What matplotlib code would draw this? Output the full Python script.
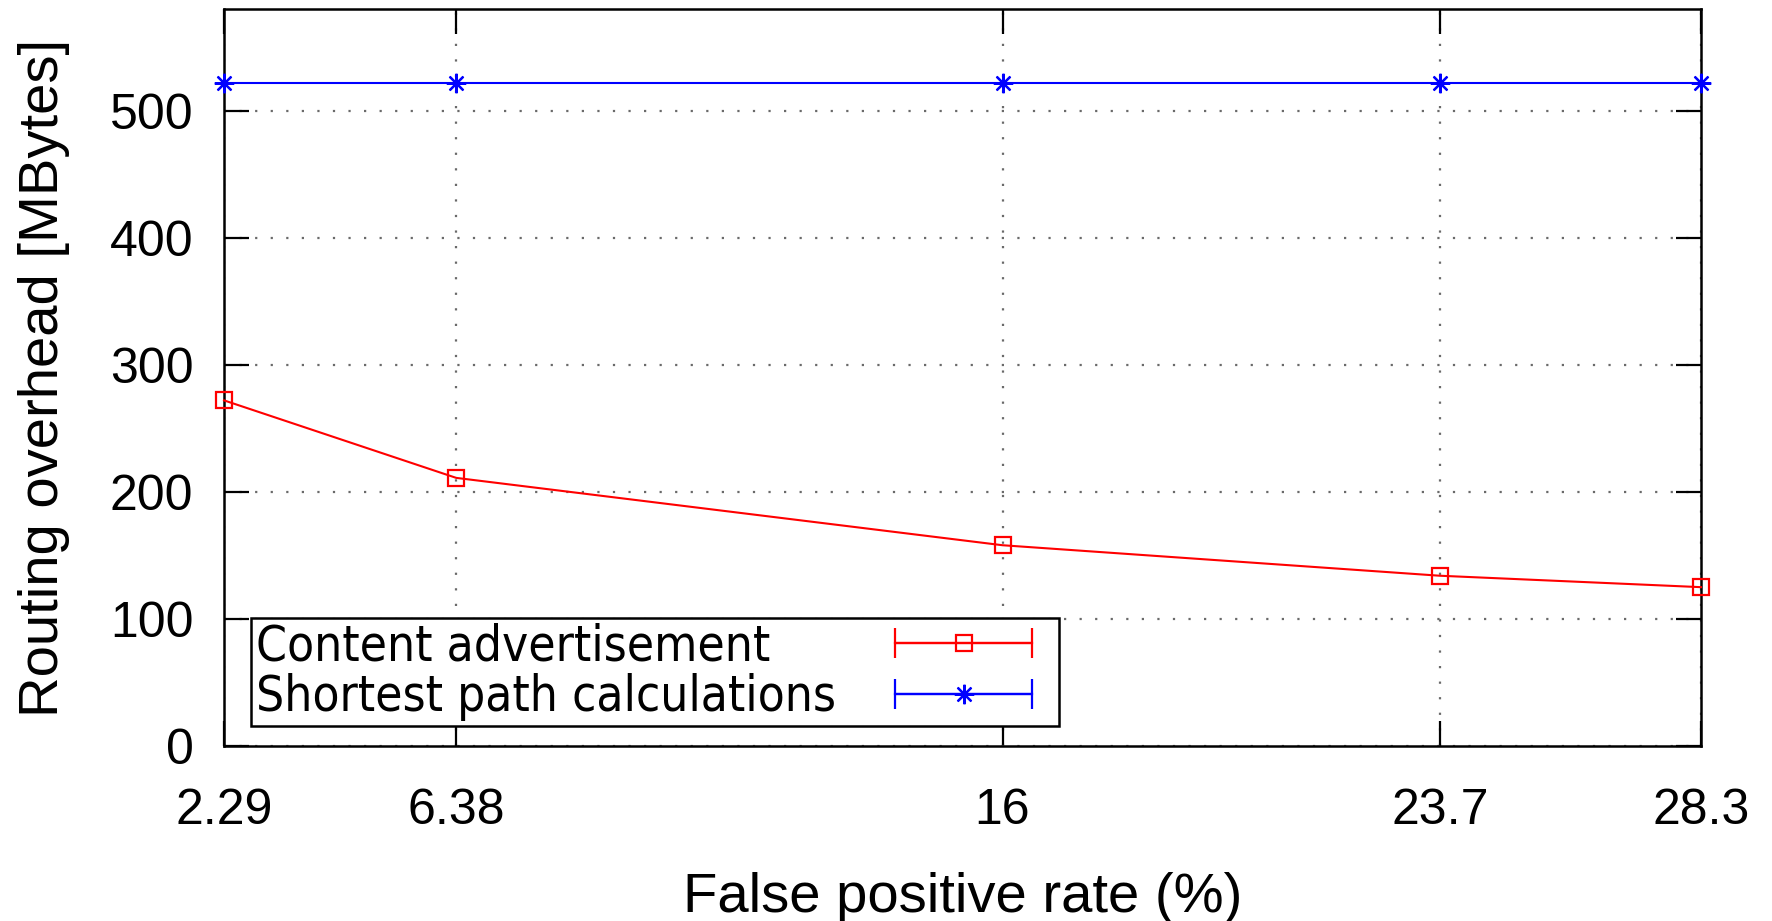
import numpy as np
import matplotlib
matplotlib.use("Agg")
import matplotlib.pyplot as plt
from matplotlib.lines import Line2D
from matplotlib.legend_handler import HandlerErrorbar

# data
fp_rate = [2.29, 6.38, 16, 23.7, 28.3]
content_adv = [272, 211, 158, 134, 125]
shortest_path = [522, 522, 522, 522, 522]
yticks = [0, 100, 200, 300, 400, 500]

plt.rcParams['font.family'] = ['Liberation Sans', 'DejaVu Sans']

fig = plt.figure(figsize=(17.72, 9.21), dpi=100)
ax = fig.add_axes([224/1772, 1 - 746/921, (1701-224)/1772, (746-9)/921])

ax.plot(fp_rate, content_adv, color='red', lw=1.5, marker='s', ms=12,
        mfc='none', mec='red', mew=1.6, clip_on=False, zorder=5)
ax.plot(fp_rate, shortest_path, color='blue', lw=1.5, marker=(8, 2, 0), ms=14,
        mec='blue', mew=1.6, clip_on=False, zorder=5)

ax.set_xlim(2.29, 28.3)
ax.set_ylim(0, 580)
ax.set_xticks(fp_rate)
ax.set_xticklabels(['2.29', '6.38', '16', '23.7', '28.3'])
ax.set_yticks(yticks)

ax.grid(True, color='#6a6a6a', linestyle=(0, (1, 6)), lw=1.6)
ax.tick_params(direction='in', length=18, width=1.6, top=True, right=True,
               labelsize=36)
ax.tick_params(axis='x', pad=30)
ax.tick_params(axis='y', pad=22)
for s in ax.spines.values():
    s.set_linewidth(1.8)

ax.set_xlabel('False positive rate (%)', fontsize=40.5)
ax.set_ylabel('Routing overhead [MBytes]', fontsize=40.5)
ax.xaxis.set_label_coords(0.5, -0.171)
ax.yaxis.set_label_coords(-0.104, 0.5)

# legend proxies, gnuplot-style errorbar symbols
leg_size = 35.6
xerr_frac = 1.38
h1 = ax.errorbar([np.nan], [np.nan], xerr=[1], fmt='s-', color='red', ms=12,
                 mfc='none', mew=1.6, capsize=11, elinewidth=1.6, lw=1.6)
h2 = ax.errorbar([np.nan], [np.nan], xerr=[1], fmt='-', marker=(8, 2, 0),
                 color='blue', ms=14, mew=1.6, capsize=11, elinewidth=1.6, lw=1.6)
leg = ax.legend([h1, h2], ['Content advertisement', 'Shortest path calculations'],
                loc='lower left', bbox_to_anchor=(0.018, 0.027), borderaxespad=0,
                markerfirst=False, handlelength=3.68, handletextpad=0.5,
                borderpad=0.1, labelspacing=0.05, fancybox=False, framealpha=1,
                edgecolor='black',
                prop=dict(family='DejaVu Sans', stretch='condensed', size=leg_size),
                handler_map={type(h1): HandlerErrorbar(xerr_size=xerr_frac)})
leg.get_frame().set_linewidth(1.8)
# text flush left, symbols flush right like gnuplot's key
for col in leg._legend_handle_box.get_children():
    for row in col.get_children():
        row.mode = 'expand'
        row.width = 799
        # keep the key line between the caps
        hbox = row.get_children()[1]
        for art in hbox.get_children():
            if isinstance(art, Line2D) and len(art.get_xdata()) > 1:
                xd = np.asarray(art.get_xdata(), dtype=float)
                yd = np.asarray(art.get_ydata(), dtype=float)
                c = xd.mean()
                e = xerr_frac * leg_size
                art.set_data([c - e, c + e], [yd[0], yd[0]])

fig.savefig('out.png', dpi=100)
